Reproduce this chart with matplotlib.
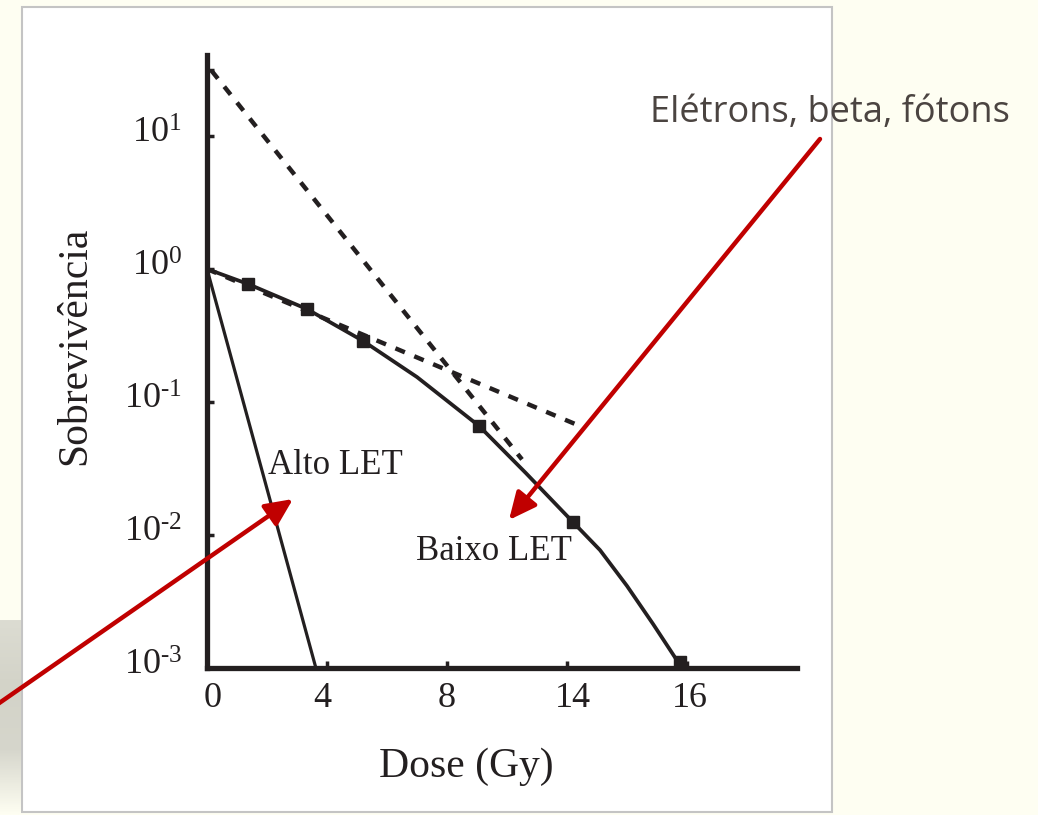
import numpy as np
import matplotlib
matplotlib.use("Agg")
import matplotlib.pyplot as plt
from matplotlib.patches import Rectangle, FancyArrowPatch
from matplotlib.transforms import ScaledTranslation

# curva de sobrevivência - baixo LET (pontos medidos)
dose_pontos = [1.37, 3.33, 5.2, 9.07, 12.2, 15.77]
surv_pontos = [0.771, 0.50, 0.288, 0.066, 0.0125, 0.00111]

# curva suave
dose_curva = [0, 1.37, 3.33, 5.2, 7.0, 9.07, 10.63, 12.2, 13.1, 14.0, 14.87, 15.7]
surv_curva = [1, 0.771, 0.50, 0.288, 0.154, 0.066, 0.0292, 0.0125, 0.0077, 0.00414, 0.00214, 0.00111]

# alto LET
dose_alto = [0, 3.63]
surv_alto = [1, 0.001]

# retas tracejadas (extrapolacao e inclinacao inicial)
dose_extrap = [0.15, 10.5]
surv_extrap = [31, 0.037]
dose_inicial = [0, 12.5]
surv_inicial = [1, 0.065]

xticks = [0, 4, 8, 12, 16]
xtick_labels = ["0", "4", "8", "14", "16"]
yticks = [1e-3, 1e-2, 1e-1, 1e0, 1e1]
ytick_labels = ["10$^{\u2010\mathregular{3}}$", "10$^{\u2010\mathregular{2}}$", "10$^{\u2010\mathregular{1}}$",
                "10$^{\mathregular{0}}$", "10$^{\mathregular{1}}$"]

plt.rcParams["font.family"] = "Liberation Serif"
plt.rcParams["mathtext.fontset"] = "custom"
plt.rcParams["mathtext.rm"] = "Liberation Serif"
plt.rcParams["mathtext.it"] = "Liberation Serif"

W, H = 1038, 815
fig = plt.figure(figsize=(W / 100, H / 100), dpi=100)
fig.patch.set_facecolor("#fefef2")

# painel branco
fig.patches.append(Rectangle((22 / W, 3 / H), 810 / W, 805 / H, transform=fig.transFigure,
                             facecolor="white", edgecolor="#c4c4c4", lw=1.5, zorder=-5))

# sombra cinza no canto esquerdo
sh = fig.add_axes([0, 0, 21 / W, 195 / H])
grad = np.linspace(0, 1, 100).reshape(-1, 1)
sh.imshow(grad, aspect="auto", cmap=matplotlib.colors.LinearSegmentedColormap.from_list(
    "s", ["#dcdcd2", "#d3d3c8", "#d6d6cc", "#fefef2"]), extent=[0, 1, 0, 1])
sh.axis("off")

ax = fig.add_axes([207 / W, (H - 668) / H, 590 / W, 613 / H])
ax.set_facecolor("none")
ink = "#231f20"

ax.plot(dose_extrap, surv_extrap, color=ink, lw=3.2, linestyle=(0, (2.3, 2.3)))
ax.plot(dose_inicial, surv_inicial, color=ink, lw=3.2, linestyle=(0, (2.3, 2.3)))
ax.plot(dose_curva, surv_curva, color=ink, lw=2.7, solid_joinstyle="round")
ax.plot(dose_pontos, surv_pontos, "s", color=ink, ms=9)
ax.plot(dose_alto, surv_alto, color=ink, lw=2.3)

ax.set_yscale("log")
ax.set_xlim(0, 590 / 30)
ax.set_ylim(1e-3, 10 ** (-3 + 613 / 133))

for s in ["top", "right"]:
    ax.spines[s].set_visible(False)
for s in ["left", "bottom"]:
    ax.spines[s].set_linewidth(3.8)
    ax.spines[s].set_color(ink)
    ax.spines[s].set_capstyle("projecting")

ax.set_xticks(xticks)
ax.set_xticklabels(xtick_labels)
ax.set_yticks(yticks)
ax.set_yticklabels(ytick_labels)
ax.yaxis.set_minor_locator(matplotlib.ticker.FixedLocator([10 ** 1.5]))
ax.yaxis.set_minor_formatter(matplotlib.ticker.NullFormatter())
ax.tick_params(axis="both", which="both", direction="in", length=5, width=2.5, color=ink)
ax.tick_params(axis="x", labelsize=26, pad=10, labelcolor=ink)
ax.tick_params(axis="y", labelsize=26, pad=18, labelcolor=ink)
for lab in ax.get_yticklabels():
    lab.set_transform(lab.get_transform() + ScaledTranslation(0, 6 / 100, fig.dpi_scale_trans))
# deslocamentos dos rotulos do eixo x como na figura original
for lab, dx in zip(ax.get_xticklabels(), [6, -5, 0, 6, 3]):
    lab.set_transform(lab.get_transform() + ScaledTranslation(dx / 100, 0, fig.dpi_scale_trans))

fig.text(268 / W, (H - 474) / H, "Alto LET", fontsize=25, color=ink)
fig.text(416 / W, (H - 560) / H, "Baixo LET", fontsize=25, color=ink)

fig.text(466 / W, (H - 767) / H, "Dose (Gy)", fontsize=30, color=ink, ha="center", va="center")
fig.text(75 / W, (H - 346) / H, "Sobrevivência", fontsize=30, color=ink, rotation=90,
         ha="center", va="center")

fig.text(650 / W, (H - 122) / H, "Elétrons, beta, fótons", fontsize=26, color="#4b4441",
         family="Open Sans", ha="left", va="baseline")

seta = dict(arrowstyle="-|>,head_length=0.75,head_width=0.35", color="#c00000", lw=3.2,
            mutation_scale=22, shrinkA=0, shrinkB=0)
fig.add_artist(FancyArrowPatch((820 / W, (H - 139) / H), (509 / W, (H - 520) / H),
                               transform=fig.transFigure, **seta))
fig.add_artist(FancyArrowPatch((-5 / W, (H - 706) / H), (293 / W, (H - 499) / H),
                               transform=fig.transFigure, **seta))

fig.savefig("out.png", dpi=100, facecolor=fig.get_facecolor())
